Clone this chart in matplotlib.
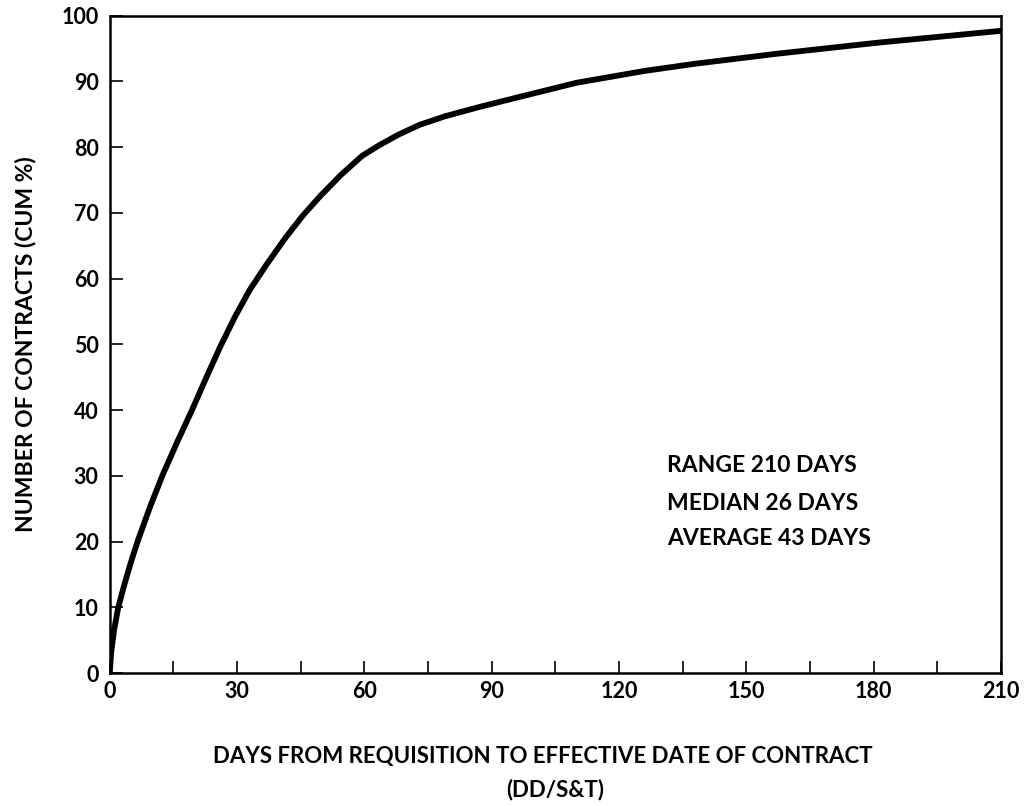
import matplotlib
matplotlib.use("Agg")
import matplotlib.pyplot as plt
from matplotlib.ticker import MultipleLocator

plt.rcParams['font.family'] = ['Lato', 'DejaVu Sans']
plt.rcParams['font.weight'] = 'bold'
plt.rcParams['axes.labelweight'] = 'bold'

# cumulative curve
days = [0, 0.3, 1, 2, 3.5, 5, 6.6, 9.5, 12.5, 16, 19.3, 22.5, 26, 29.5, 33,
        37, 41.5, 45.5, 49.5, 54.5, 59.5, 63.5, 68, 73, 79, 87, 95, 110, 126,
        138, 157, 181, 210]
cum_pct = [0, 3, 6.5, 10, 13.6, 16.9, 20.1, 25.3, 30.2, 35.3, 39.9, 44.6, 49.6,
           54.2, 58.3, 62.2, 66.3, 69.6, 72.5, 75.8, 78.7, 80.3, 81.9, 83.4,
           84.7, 86.1, 87.4, 89.8, 91.6, 92.7, 94.2, 95.9, 97.7]

stats = ["RANGE 210 DAYS", "MEDIAN 26 DAYS", "AVERAGE 43 DAYS"]
stats_y = [31.6, 25.8, 20.4]

fig = plt.figure(figsize=(10.26, 8.06), dpi=100)
ax = fig.add_axes([0.107, 0.165, 0.8686, 0.8155])

ax.plot(days, cum_pct, color='black', lw=4.2, solid_capstyle='round',
        solid_joinstyle='round')

ax.set_xlim(0, 210)
ax.set_ylim(0, 100)
ax.xaxis.set_major_locator(MultipleLocator(30))
ax.xaxis.set_minor_locator(MultipleLocator(15))
ax.yaxis.set_major_locator(MultipleLocator(10))

for s in ax.spines.values():
    s.set_linewidth(1.8)

ax.tick_params(axis='both', which='both', direction='in', length=9, width=1.2,
               labelsize=15.5)
ax.tick_params(axis='x', which='major', pad=6)
ax.tick_params(axis='y', which='major', pad=8)

for t, yy in zip(stats, stats_y):
    ax.text(131.3, yy, t, fontsize=16.5, va='center', ha='left')

ax.set_ylabel("NUMBER OF CONTRACTS (CUM %)", fontsize=16.5, labelpad=18)
fig.text(0.529, 0.061, "DAYS FROM REQUISITION TO EFFECTIVE DATE OF CONTRACT",
         fontsize=16, ha='center', va='center')
fig.text(0.541, 0.02, "(DD/S&T)", fontsize=16, ha='center', va='center')

fig.savefig("out.png", dpi=100)
